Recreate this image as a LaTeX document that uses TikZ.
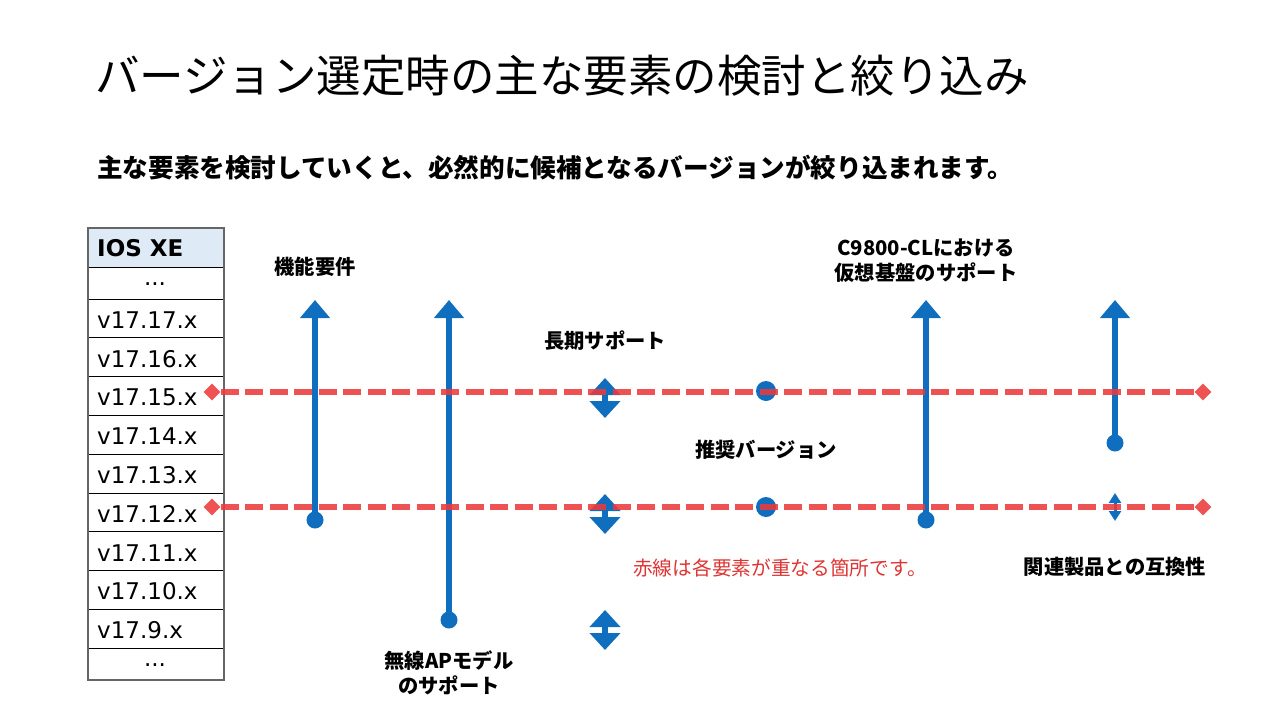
\documentclass[tikz,border=0pt]{standalone}
\usepackage{fontspec}
\setmainfont{DejaVu Sans}
\newfontfamily\jpfont{Noto Sans CJK JP}
\usetikzlibrary{arrows.meta,shapes.geometric}

\definecolor{armblue}{RGB}{16,110,190}
\definecolor{hitred}{RGB}{236,58,58}
\definecolor{notered}{RGB}{222,52,52}
\definecolor{headblue}{RGB}{222,234,246}

\tikzset{
  titletext/.style={anchor=base west, font=\jpfont\fontsize{44.5}{52}\selectfont},
  leadtext/.style={anchor=base west, font=\jpfont\bfseries\fontsize{25.6}{30}\selectfont},
  factor/.style={align=center, font=\jpfont\bfseries\fontsize{20.3}{25}\selectfont},
  cell/.style={anchor=west, font=\fontsize{23}{27}\selectfont},
  varrow/.style={draw=armblue, line width=5.5pt, -{Triangle[length=18pt,width=29pt]}},
  dblarrow/.style={draw=armblue, line width=6pt,
    {Triangle[length=17pt,width=30pt]}-{Triangle[length=17pt,width=30pt]}},
  tinyarrow/.style={draw=armblue, line width=3pt,
    {Triangle[length=10pt,width=12pt]}-{Triangle[length=10pt,width=12pt]}},
  hitline/.style={draw=hitred, line width=6pt, dash pattern=on 18pt off 6.5pt, opacity=.88},
  endmark/.style={diamond, fill=hitred, minimum size=17pt, opacity=.88}
}

\begin{document}
\begin{tikzpicture}[x=1pt, y=-1pt, every node/.style={inner sep=0pt}]
    \useasboundingbox (0,0) rectangle (1280,720);

    % headings
    \node[titletext] (title) at (95,92) {バージョン選定時の主な要素の検討と絞り込み};
    \node[leadtext] (lead) at (97,177) {主な要素を検討していくと、必然的に候補となるバージョンが絞り込まれます。};

    % version table
    \fill[headblue] (88,228) rectangle (224,267);
    \node[cell, font=\bfseries\fontsize{23}{27}\selectfont] (hdr) at (97,248) {IOS XE};
    \node[cell, anchor=center] (dotstop) at (155,284) {...};
    \foreach \v [count=\i from 0] in {17,16,...,9} {
      \node[cell] (v\v) at (97,{299+38.8*\i+21}) {v17.\v.x};
      \draw[line width=1pt] (88,{299+38.8*\i}) -- (224,{299+38.8*\i});
    }
    \node[cell, anchor=center] (dotsbot) at (155,665) {...};
    \draw[line width=1pt] (88,267) -- (224,267);
    \draw[line width=1pt] (88,648.2) -- (224,648.2);
    \draw[line width=1.5pt, black!60] (88,228) rectangle (224,680);

    % factor ranges
    \coordinate (fr-bot) at (315,520); \coordinate (fr-top) at (315,300); % 機能要件
    \coordinate (ap-bot) at (449,620); \coordinate (ap-top) at (449,300); % 無線AP
    \coordinate (vm-bot) at (926,520); \coordinate (vm-top) at (926,300); % C9800-CL
    \coordinate (rp-bot) at (1115,443); \coordinate (rp-top) at (1115,300); % 関連製品
    \foreach \k in {fr,ap,vm,rp} {
      \draw[varrow] (\k-bot) -- (\k-top);
      \fill[armblue] (\k-bot) circle (8.5pt);
    }

    % long term support marks
    \draw[dblarrow] (605,418) -- (605,378);
    \draw[dblarrow] (605,534) -- (605,494);
    \draw[dblarrow] (605,650) -- (605,610);
    \draw[tinyarrow] (1115,521) -- (1115,493);

    % recommended versions
    \fill[armblue] (766,391) circle (10pt);
    \fill[armblue] (766,507) circle (10pt);

    % overlap lines
    \node[endmark] (l1a) at (212,392) {}; \node[endmark] (l1b) at (1203,392) {};
    \node[endmark] (l2a) at (212,507) {}; \node[endmark] (l2b) at (1203,507) {};
    \draw[hitline] (l1a) -- (l1b);
    \draw[hitline] (l2a) -- (l2b);

    % labels
    \node[factor] (lb-fr) at (315,267) {機能要件};
    \node[factor] (lb-vm) at (926,260.5) {C9800-CLにおける\\仮想基盤のサポート};
    \node[factor] (lb-lt) at (605,341) {長期サポート};
    \node[factor] (lb-rc) at (766,450) {推奨バージョン};
    \node[factor] (lb-rp) at (1115,567) {関連製品との互換性};
    \node[factor] (lb-ap) at (449,673) {無線APモデル\\のサポート};
    \node[font=\jpfont\fontsize{19.7}{25}\selectfont, text=notered] (note) at (780,568) {赤線は各要素が重なる箇所です。};
\end{tikzpicture}
\end{document}
